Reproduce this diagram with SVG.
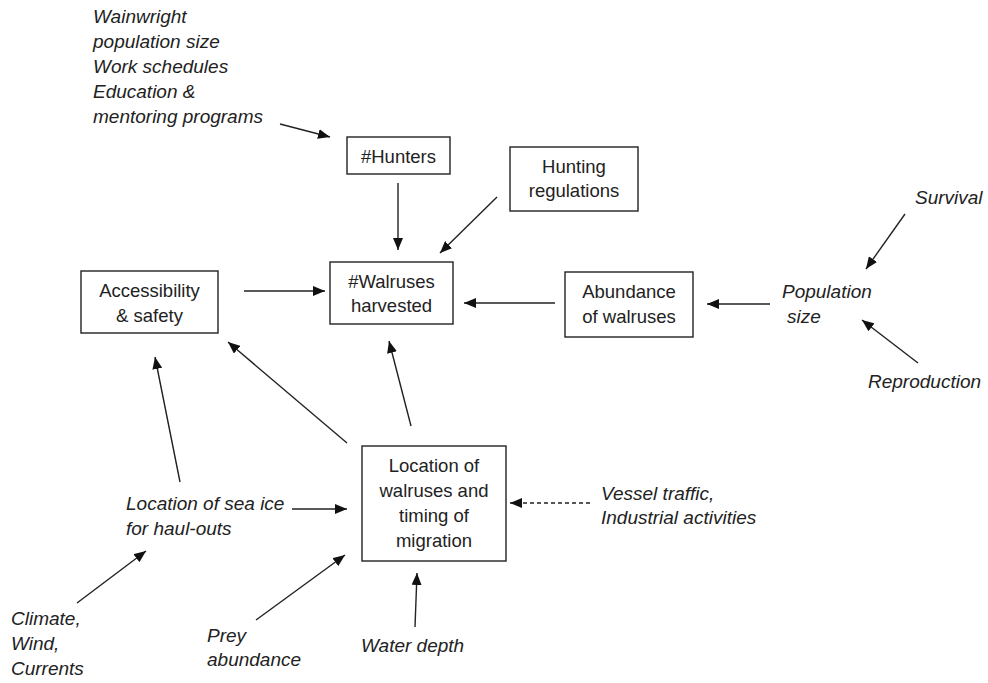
<svg xmlns="http://www.w3.org/2000/svg" width="988" height="683" viewBox="0 0 988 683">
<defs>
<marker id="ah" markerUnits="userSpaceOnUse" markerWidth="12" markerHeight="10" refX="12" refY="5" orient="auto">
<path d="M0,0 L12,5 L0,10 z" fill="#111"/>
</marker>
<style>
.box{fill:#fff;stroke:#222;stroke-width:1.4}
.bt{font-family:"Liberation Sans",Arial,sans-serif;font-size:18.5px;fill:#222;text-anchor:middle}
.it{font-family:"Liberation Sans",Arial,sans-serif;font-size:19px;font-style:italic;fill:#222}
.c line{stroke:#222;stroke-width:1.4;marker-end:url(#ah)}
.c .d{stroke-dasharray:4,3}
</style>
</defs>
<rect width="988" height="683" fill="#fff"/>

<g id="hunters">
<rect class="box" x="347" y="137" width="103" height="37"/>
<text class="bt" x="398.5" y="163">#Hunters</text>
</g>
<g id="regulations">
<rect class="box" x="510" y="147" width="128" height="64"/>
<text class="bt" x="574" y="173">Hunting</text>
<text class="bt" x="574" y="197">regulations</text>
</g>
<g id="harvested">
<rect class="box" x="330" y="262" width="123" height="62"/>
<text class="bt" x="391.5" y="288">#Walruses</text>
<text class="bt" x="391.5" y="312">harvested</text>
</g>
<g id="accessibility">
<rect class="box" x="81" y="271" width="137" height="62"/>
<text class="bt" x="149.5" y="297">Accessibility</text>
<text class="bt" x="149.5" y="322">&amp; safety</text>
</g>
<g id="abundance">
<rect class="box" x="565" y="272" width="128" height="65"/>
<text class="bt" x="629" y="298">Abundance</text>
<text class="bt" x="629" y="323">of walruses</text>
</g>
<g id="location">
<rect class="box" x="362" y="446" width="144" height="115"/>
<text class="bt" x="434" y="472">Location of</text>
<text class="bt" x="434" y="497">walruses and</text>
<text class="bt" x="434" y="522">timing of</text>
<text class="bt" x="434" y="547">migration</text>
</g>

<g id="wainwright">
<text class="it" x="93" y="23">Wainwright</text>
<text class="it" x="93" y="48">population size</text>
<text class="it" x="93" y="73">Work schedules</text>
<text class="it" x="93" y="98">Education &amp;</text>
<text class="it" x="93" y="123">mentoring programs</text>
</g>
<g id="survival"><text class="it" x="915" y="204">Survival</text></g>
<g id="popsize">
<text class="it" x="782" y="298">Population</text>
<text class="it" x="787" y="323">size</text>
</g>
<g id="reproduction"><text class="it" x="868" y="388">Reproduction</text></g>
<g id="vessel">
<text class="it" x="601" y="500">Vessel traffic,</text>
<text class="it" x="601" y="524">Industrial activities</text>
</g>
<g id="seaice">
<text class="it" x="126" y="510">Location of sea ice</text>
<text class="it" x="126" y="535">for haul-outs</text>
</g>
<g id="climate">
<text class="it" x="11" y="625">Climate,</text>
<text class="it" x="11" y="650">Wind,</text>
<text class="it" x="11" y="675">Currents</text>
</g>
<g id="prey">
<text class="it" x="207" y="642">Prey</text>
<text class="it" x="207" y="666">abundance</text>
</g>
<g id="depth"><text class="it" x="361" y="652">Water depth</text></g>

<g id="connectors" class="c">
<line x1="280" y1="124" x2="330" y2="137"/>
<line x1="398" y1="183" x2="398" y2="250"/>
<line x1="497" y1="197" x2="440" y2="253"/>
<line x1="244" y1="291" x2="325" y2="291"/>
<line x1="555" y1="303" x2="464" y2="303"/>
<line x1="770" y1="304" x2="707" y2="304"/>
<line x1="905" y1="214" x2="866" y2="269"/>
<line x1="918" y1="363" x2="862" y2="320"/>
<line x1="180" y1="482" x2="155" y2="357"/>
<line x1="347" y1="443" x2="228" y2="342"/>
<line x1="411" y1="426" x2="389" y2="341"/>
<line x1="292" y1="509" x2="347" y2="509"/>
<line class="d" x1="590" y1="503" x2="510" y2="503"/>
<line x1="77" y1="603" x2="146" y2="551"/>
<line x1="256" y1="620" x2="345" y2="555"/>
<line x1="415" y1="627" x2="417" y2="573"/>
</g>
</svg>
